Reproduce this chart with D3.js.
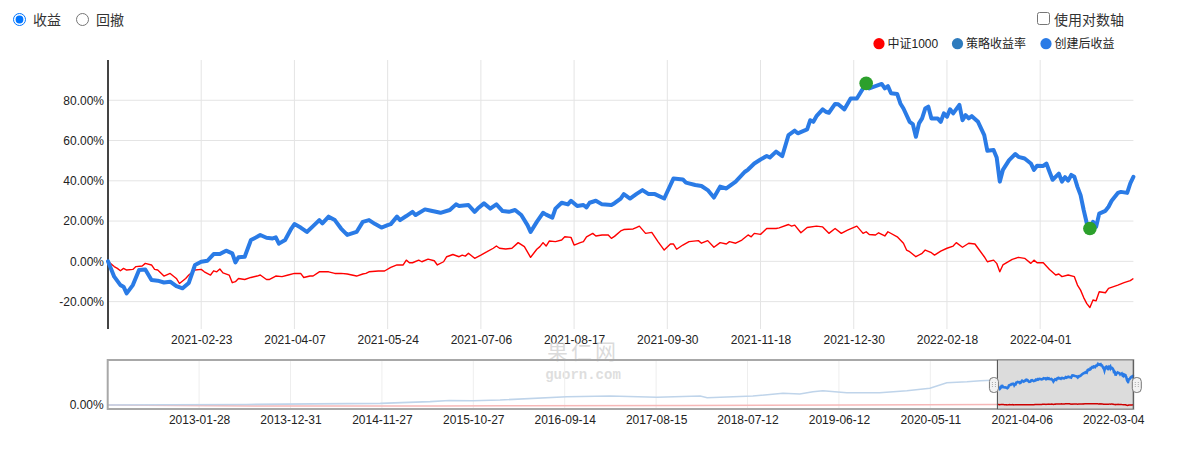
<!DOCTYPE html>
<html><head><meta charset="utf-8">
<script src="https://cdn.jsdelivr.net/npm/d3@7"></script>
<style>
body{margin:0;background:#fff;}
#wrap{position:relative;width:1185px;height:450px;overflow:hidden;font-family:"Liberation Sans",Arial,"Noto Sans CJK SC",sans-serif;}
#chart{position:absolute;left:0;top:0;}
input{position:absolute;margin:0;z-index:2;}
</style></head><body>
<div id="wrap">
<svg id="chart" width="1185" height="450"></svg>
<input type="radio" name="mode" checked style="left:13px;top:13px">
<input type="radio" name="mode" style="left:76px;top:13px">
<input type="checkbox" style="left:1037px;top:12px">
</div>
<script>
// ---- data ----
const modeLabels = ["收益", "回撤"];
const logLabel = "使用对数轴";
const legendNames = ["中证1000", "策略收益率", "创建后收益"];
const yTicks = [-20, 0, 20, 40, 60, 80];
const mainTickLabels = ["2021-02-23","2021-04-07","2021-05-24","2021-07-06","2021-08-17","2021-09-30","2021-11-18","2021-12-30","2022-02-18","2022-04-01"];
const mainTickDays = [30,60,90,120,150,180,210,240,270,300];
const mainLastDay = 330;

// 创建后收益 (%), by trading day index
const stratDays = [0,2,4,5,6,8,10,12,14,16,18,20,22,24,26,28,30,32,34,36,38,40,41,42,44,46,48,49,51,53,54,55,57,59,60,62,64,66,68,69,71,73,75,77,80,82,84,86,88,90,91,93,94,96,98,99,102,104,107,110,112,113,116,118,119,121,123,125,127,129,131,133,135,136,138,140,141,143,144,146,148,149,151,153,154,155,157,159,162,163,165,166,168,170,172,174,176,179,182,185,186,189,191,193,195,197,199,202,205,206,208,210,212,213,215,217,219,221,222,225,226,227,228,230,231,232,234,235,237,239,241,243,244,245,247,249,250,251,252,254,255,256,258,259,260,261,262,263,264,265,267,268,269,270,271,272,274,275,276,277,278,280,282,283,285,286,287,288,290,292,293,295,297,298,299,301,302,303,304,306,307,308,309,310,311,312,313,314,315,316,317,318,319,321,322,323,325,326,328,329,330];
const stratValues = [0,-7.6,-11.8,-12.6,-15.9,-11.8,-4.3,-4,-9.3,-9.6,-10.5,-10.1,-12.3,-13.4,-10.7,-1.8,-0.2,0.3,3.6,3.6,5.3,4,-0.5,2,2.3,10.6,12.2,13.1,11.7,11.4,11.9,8.8,10.6,16.3,18.5,16.8,14.6,17.5,20.5,18.9,22.2,20.5,16.3,13.1,14.6,19.6,20.5,18.5,16.8,18,18.5,22.2,20.5,22.5,24.6,23,25.8,25.1,24.1,25.5,28.3,27.5,28,24.6,26.2,28.8,26.2,28.3,25,24.6,25.5,23,18,14.6,19.6,24.1,23.2,21.7,26.2,29.1,28.3,30.1,27.5,28,26.8,29.1,30.1,28.3,28,28.9,31.2,33.4,31.2,33.4,35.4,33.4,33.4,31.2,41.2,40.7,39.1,37.9,37.4,35.4,31.7,37.1,36.2,39.6,44.5,45.6,48.6,50.6,52.3,51.6,54.5,52.3,62.7,64.9,63.6,65.5,70.1,69.3,72.1,75.5,74.3,73.8,78.2,78,75.5,80.9,80.9,85.9,88.4,85.9,87,88.1,85.9,87,83.5,83.1,78.4,75.9,69.3,68.2,61.9,68.5,71,75.9,76.8,71,71,69.3,73.5,71.8,75.5,73.5,77.7,70.1,72.6,71,72.1,69.3,62.7,54.9,55.3,51.6,39.6,45.4,50.3,53.3,51.9,51.1,48.6,45.4,47.5,47.4,48.6,44.5,40.5,43.6,39.6,41.8,40.1,42.9,42,37,32.9,25.5,18.9,16.3,19.6,17.1,23.7,25.1,27.1,30.1,34,34.5,34,38.7,42];

// 中证1000 (%), by trading day index
const benchDays = [0,2,3,4,5,6,8,9,11,12,14,15,16,18,20,22,23,25,26,28,30,31,33,34,35,36,37,39,40,41,42,44,46,48,49,51,52,54,56,58,60,62,63,65,66,68,71,73,75,77,80,82,83,84,87,89,91,93,95,96,97,98,100,101,103,105,106,108,109,111,113,114,115,116,118,120,121,122,124,125,126,128,130,132,134,136,138,139,140,141,142,144,146,147,149,150,152,153,154,156,157,159,161,162,163,165,166,169,170,171,173,175,177,179,181,182,183,185,187,190,191,193,195,197,199,200,202,204,206,207,208,210,212,215,216,219,220,221,223,225,228,230,232,234,236,238,241,243,244,245,247,248,250,251,254,256,257,258,260,262,263,265,266,268,270,272,273,275,277,279,280,282,283,285,286,287,288,291,293,295,297,298,299,301,303,305,306,307,309,311,312,313,314,315,316,317,318,319,321,322,325,327,329,330];
const benchValues = [0,-2.6,-3.5,-4.7,-3.5,-4.3,-4,-2.6,-2.3,-1,-1.8,-4,-4.3,-7.3,-6,-8.5,-11,-8.5,-6.8,-4.3,-4,-5.2,-6.8,-4.7,-5.2,-3.8,-5.7,-6.8,-10.6,-10.1,-8.5,-9,-8,-7.3,-6.8,-9,-9,-7.3,-7.6,-6.8,-6,-6,-8,-7.3,-7.3,-5.2,-5.2,-6,-6,-6.3,-7.3,-6.3,-6,-5.2,-4.8,-4.8,-3,-1.8,-1.8,0.6,-0.7,-0.7,0.6,-0.2,1.1,0.3,-1.8,-0.2,2.3,3.4,2.3,3.1,2.6,4,1.5,3.1,4,4.8,6.5,7.6,6.5,6.1,6.5,9.3,7.3,2,6,7.3,9.3,7.6,10.1,9.8,10.6,12.2,11.9,8.1,9.3,9.8,12.2,13.9,12.6,13.1,13.1,11.4,12.4,15.1,15.8,16.1,16.8,17.5,13.9,14.4,9.8,5.6,8.6,8.6,6,8.1,9.8,10.3,9,10.3,7,9.3,8.6,9.8,9,10.6,13.1,12.2,13.9,13.4,16.3,16.3,16.6,18.3,17.5,18,14.2,16.8,17.5,17.1,13.9,16.3,13.9,15.5,17.5,13.9,14.7,13.3,13.1,14.2,12.6,14.7,12.2,9,5.6,4.8,2.3,4,5.6,4.3,3.1,5.1,6.5,7.6,9.3,7,9,8.6,6.5,2.3,-0.2,0.6,-1,-5.2,-1.8,1,2,1.5,-1,0.6,-0.7,-0.7,-4,-6.8,-6.3,-7.6,-6.8,-7.6,-11.8,-14.3,-18,-21,-22.9,-19.2,-19.6,-15.1,-15.6,-13.4,-11.8,-10.6,-9.6,-8.5];

// navigator (full history, trading day index since 2012)
const navTickLabels = ["2013-01-28","2013-12-31","2014-11-27","2015-10-27","2016-09-14","2017-08-15","2018-07-12","2019-06-12","2020-05-11","2021-04-06","2022-03-04"];
const navTickDays = [222,444,666,888,1110,1332,1554,1776,1998,2220,2442];
const navLastDay = 2491;
const navCreationDay = 2161;
const navStratDays = [0,150,338,500,662,783,830,887,953,1115,1220,1334,1439,1456,1567,1640,1681,1713,1737,1795,1875,1941,1997,2038,2087,2120,2161];
const navStratValues = [0,5,15,30,45,90,120,116,135,224,243,208,243,197,243,316,297,360,387,333,333,387,451,603,630,657,675];
const navBenchDays = [0,400,800,1000,1400,1800,2161];
const navBenchValues = [0,-30,-25,-20,-15,0,15];
const creationBaseStrat = 540;   // cumulative % at creation date (navigator rebasing)
const creationBaseBench = 15;

// ---- colours ----
const C_RED = "#ff0000", C_STEEL = "#2e7bbd", C_BLUE = "#2a7be6", C_GREEN = "#2ca02c";

const svg = d3.select("#chart");
const FONT = '"Liberation Sans", Arial, "Noto Sans CJK SC", sans-serif';
svg.style("font-family", FONT);

// ---- top controls text ----
svg.append("text").attr("x", 33).attr("y", 24.5).attr("font-size", 14).attr("fill", "#333").text(modeLabels[0]);
svg.append("text").attr("x", 96).attr("y", 24.5).attr("font-size", 14).attr("fill", "#333").text(modeLabels[1]);
svg.append("text").attr("x", 1054).attr("y", 24.5).attr("font-size", 14).attr("fill", "#333").text(logLabel);

// ---- legend ----
const legendX = [879, 957.5, 1046];
const legendCol = [C_RED, C_STEEL, C_BLUE];
const lg = svg.append("g");
legendNames.forEach((n, i) => {
  lg.append("circle").attr("cx", legendX[i]).attr("cy", 43.7).attr("r", 5.6).attr("fill", legendCol[i]);
  lg.append("text").attr("x", legendX[i] + 8.5).attr("y", 48.2).attr("font-size", 12).attr("fill", "#222").text(n);
});

// ---- main chart ----
const x = d3.scaleLinear().domain([0, mainLastDay]).range([108, 1133.4]);
const y = d3.scaleLinear().domain([-33.6, 100]).range([329, 60]);

const grid = svg.append("g");
grid.selectAll("line.h").data(yTicks).join("line").attr("class", "h")
  .attr("x1", x(0)).attr("x2", x(mainLastDay)).attr("y1", d => y(d)).attr("y2", d => y(d))
  .attr("stroke", "#e4e4e4").attr("stroke-width", 1);
grid.selectAll("line.v").data(mainTickDays).join("line").attr("class", "v")
  .attr("x1", d => x(d)).attr("x2", d => x(d)).attr("y1", y(100)).attr("y2", y(-33.6))
  .attr("stroke", "#e4e4e4").attr("stroke-width", 1);

const yAxis = svg.append("g").attr("transform", `translate(${x(0)},0)`)
  .call(d3.axisLeft(y).tickValues(yTicks).tickFormat(d => d.toFixed(2) + "%").tickSize(0).tickPadding(4));
yAxis.select(".domain").remove();
yAxis.selectAll("text").attr("font-size", 12).attr("font-family", FONT).attr("fill", "#222");

const xAxis = svg.append("g").attr("transform", `translate(0,${y(-33.6)})`)
  .call(d3.axisBottom(x).tickValues(mainTickDays).tickFormat((d, i) => mainTickLabels[i]).tickSize(0).tickPadding(6));
xAxis.select(".domain").remove();
xAxis.selectAll("text").attr("font-size", 12).attr("font-family", FONT).attr("fill", "#222");

// watermark
svg.append("text").attr("x", 583).attr("y", 358.5).attr("text-anchor", "middle")
  .attr("font-size", 21).attr("letter-spacing", 3).attr("font-family", '"Noto Sans CJK SC", sans-serif')
  .attr("fill", "#cfcfcf").attr("fill-opacity", 0.75).text("果仁网");
svg.append("text").attr("x", 583).attr("y", 379).attr("text-anchor", "middle")
  .attr("font-size", 14).attr("font-family", '"Liberation Mono", monospace').attr("font-weight", "bold")
  .attr("fill", "#d6d6d6").attr("fill-opacity", 0.8).text("guorn.com");

// axis line
svg.append("line").attr("x1", x(0)).attr("x2", x(0)).attr("y1", y(100)).attr("y2", y(-33.6))
  .attr("stroke", "#444").attr("stroke-width", 2);

const stratPts = stratDays.map((d, i) => ({d, v: stratValues[i]}));
const benchPts = benchDays.map((d, i) => ({d, v: benchValues[i]}));
const line = d3.line().x(p => x(p.d)).y(p => y(p.v));

svg.append("path").attr("d", line(benchPts)).attr("fill", "none").attr("stroke", C_RED)
  .attr("stroke-width", 1.4).attr("stroke-linejoin", "round");
svg.append("path").attr("d", line(stratPts)).attr("fill", "none").attr("stroke", C_BLUE)
  .attr("stroke-width", 4).attr("stroke-linejoin", "round").attr("stroke-linecap", "round");

// max drawdown markers: peak, and trough after the peak
const peakI = d3.maxIndex(stratPts, p => p.v);
const after = stratPts.slice(peakI);
const troughP = after[d3.minIndex(after, p => p.v)];
[stratPts[peakI], troughP].forEach(p => svg.append("circle").attr("cx", x(p.d)).attr("cy", y(p.v)).attr("r", 6.8).attr("fill", C_GREEN));

// ---- navigator ----
const nx = d3.scaleLinear().domain([0, navLastDay]).range([107.7, 1133.3]);
const ny = d3.scaleLinear().domain([-108, 1216]).range([409, 360]);
const nav = svg.append("g");
nav.selectAll("line.g").data(navTickDays).join("line").attr("class", "g")
  .attr("x1", d => nx(d)).attr("x2", d => nx(d)).attr("y1", 360).attr("y2", 409)
  .attr("stroke", "#eeeeee");
const nline = d3.line().x(p => nx(p.d)).y(p => ny(p.v));
const navS = navStratDays.map((d, i) => ({d, v: navStratValues[i]}));
const navB = navBenchDays.map((d, i) => ({d, v: navBenchValues[i]}));
nav.append("path").attr("d", nline(navB)).attr("fill", "none").attr("stroke", "#f6b8b8").attr("stroke-width", 1.5);
nav.append("path").attr("d", nline(navS)).attr("fill", "none").attr("stroke", "#bfd4ea").attr("stroke-width", 1.6);
nav.append("rect").attr("x", nx(0)).attr("y", 360).attr("width", nx(navLastDay) - nx(0)).attr("height", 49)
  .attr("fill", "none").attr("stroke", "#a8a8a8").attr("stroke-width", 2);
// selection window
nav.append("rect").attr("x", nx(navCreationDay)).attr("y", 360).attr("width", nx(navLastDay) - nx(navCreationDay)).attr("height", 49)
  .attr("fill", "#dcdcdc").attr("stroke", "#8a8a8a").attr("stroke-width", 1);
const selS = stratPts.map(p => ({d: navCreationDay + p.d, v: (100 + creationBaseStrat) * (1 + p.v / 100) - 100}));
const selB = benchPts.map(p => ({d: navCreationDay + p.d, v: (100 + creationBaseBench) * (1 + p.v / 100) - 100}));
nav.append("path").attr("d", nline(selB)).attr("fill", "none").attr("stroke", "#cc0000").attr("stroke-width", 1.5);
nav.append("path").attr("d", nline(selS)).attr("fill", "none").attr("stroke", C_BLUE).attr("stroke-width", 2.6);
nav.append("line").attr("x1", nx(navCreationDay)).attr("x2", nx(navCreationDay)).attr("y1", 360).attr("y2", 409).attr("stroke", "#555");
nav.append("line").attr("x1", nx(navLastDay)).attr("x2", nx(navLastDay)).attr("y1", 360).attr("y2", 409).attr("stroke", "#555");
// handles
[nx(navCreationDay), nx(navLastDay)].forEach((hx, i) => {
  const hw = 9, hh = 15, hxl = i === 0 ? hx - hw + 1 : hx - 1;
  nav.append("rect").attr("x", hxl).attr("y", 377.5).attr("width", hw).attr("height", hh).attr("rx", 4)
    .attr("fill", "#f2f2f2").attr("stroke", "#777").attr("stroke-width", 1);
  [-1.5, 1.5].forEach(o => nav.append("line").attr("x1", hxl + hw / 2 + o).attr("x2", hxl + hw / 2 + o)
    .attr("y1", 382).attr("y2", 388).attr("stroke", "#aaa").attr("stroke-dasharray", "1,1"));
});

const nxAxis = svg.append("g").attr("transform", "translate(0,409)")
  .call(d3.axisBottom(nx).tickValues(navTickDays).tickFormat((d, i) => navTickLabels[i]).tickSize(0).tickPadding(6));
nxAxis.select(".domain").remove();
nxAxis.selectAll("text").attr("font-size", 12).attr("font-family", FONT).attr("fill", "#222");
const nyAxis = svg.append("g").attr("transform", `translate(${nx(0)},0)`)
  .call(d3.axisLeft(ny).tickValues([0]).tickFormat(d => d.toFixed(2) + "%").tickSize(0).tickPadding(4));
nyAxis.select(".domain").remove();
nyAxis.selectAll("text").attr("font-size", 12).attr("font-family", FONT).attr("fill", "#222");
</script>
</body></html>
